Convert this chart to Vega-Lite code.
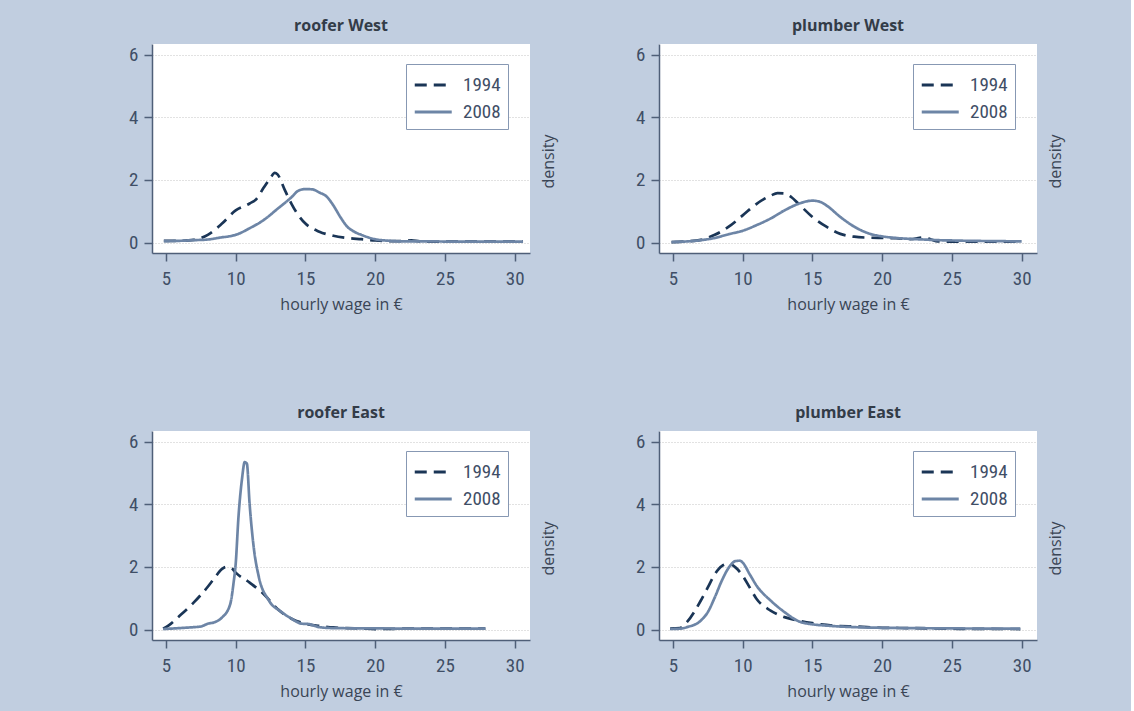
{
  "$schema": "https://vega.github.io/schema/vega-lite/v6.json",
  "background": "#c1cee0",
  "padding": {"left": 128, "top": 18, "right": 68, "bottom": 14},
  "bounds": "flush",
  "columns": 2,
  "spacing": {"row": 178, "column": 129},
  "data": {"values": [
    {"panel":"roofer West","year":"1994","wage":4.85,"density":0.06},
    {"panel":"roofer West","year":"1994","wage":6,"density":0.06},
    {"panel":"roofer West","year":"1994","wage":7,"density":0.09},
    {"panel":"roofer West","year":"1994","wage":8,"density":0.25},
    {"panel":"roofer West","year":"1994","wage":9,"density":0.6},
    {"panel":"roofer West","year":"1994","wage":10,"density":1.03},
    {"panel":"roofer West","year":"1994","wage":11,"density":1.25},
    {"panel":"roofer West","year":"1994","wage":11.5,"density":1.4},
    {"panel":"roofer West","year":"1994","wage":12,"density":1.75},
    {"panel":"roofer West","year":"1994","wage":12.5,"density":2.07},
    {"panel":"roofer West","year":"1994","wage":12.8,"density":2.23},
    {"panel":"roofer West","year":"1994","wage":13,"density":2.18},
    {"panel":"roofer West","year":"1994","wage":13.5,"density":1.7},
    {"panel":"roofer West","year":"1994","wage":14,"density":1.24},
    {"panel":"roofer West","year":"1994","wage":14.5,"density":0.87},
    {"panel":"roofer West","year":"1994","wage":15,"density":0.61},
    {"panel":"roofer West","year":"1994","wage":16,"density":0.35},
    {"panel":"roofer West","year":"1994","wage":17,"density":0.22},
    {"panel":"roofer West","year":"1994","wage":18,"density":0.15},
    {"panel":"roofer West","year":"1994","wage":19,"density":0.11},
    {"panel":"roofer West","year":"1994","wage":20,"density":0.07},
    {"panel":"roofer West","year":"1994","wage":21,"density":0.05},
    {"panel":"roofer West","year":"1994","wage":22,"density":0.05},
    {"panel":"roofer West","year":"1994","wage":22.6,"density":0.07},
    {"panel":"roofer West","year":"1994","wage":23.2,"density":0.04},
    {"panel":"roofer West","year":"1994","wage":24,"density":0.03},
    {"panel":"roofer West","year":"1994","wage":26,"density":0.03},
    {"panel":"roofer West","year":"1994","wage":28,"density":0.03},
    {"panel":"roofer West","year":"1994","wage":30.6,"density":0.03},
    {"panel":"roofer West","year":"2008","wage":4.85,"density":0.05},
    {"panel":"roofer West","year":"2008","wage":6,"density":0.06},
    {"panel":"roofer West","year":"2008","wage":7,"density":0.08},
    {"panel":"roofer West","year":"2008","wage":8,"density":0.1},
    {"panel":"roofer West","year":"2008","wage":9,"density":0.17},
    {"panel":"roofer West","year":"2008","wage":9.5,"density":0.2},
    {"panel":"roofer West","year":"2008","wage":10,"density":0.25},
    {"panel":"roofer West","year":"2008","wage":11,"density":0.46},
    {"panel":"roofer West","year":"2008","wage":12,"density":0.72},
    {"panel":"roofer West","year":"2008","wage":13,"density":1.08},
    {"panel":"roofer West","year":"2008","wage":14,"density":1.45},
    {"panel":"roofer West","year":"2008","wage":14.5,"density":1.66},
    {"panel":"roofer West","year":"2008","wage":15,"density":1.71},
    {"panel":"roofer West","year":"2008","wage":15.5,"density":1.7},
    {"panel":"roofer West","year":"2008","wage":16,"density":1.6},
    {"panel":"roofer West","year":"2008","wage":16.5,"density":1.48},
    {"panel":"roofer West","year":"2008","wage":17,"density":1.19},
    {"panel":"roofer West","year":"2008","wage":17.5,"density":0.82},
    {"panel":"roofer West","year":"2008","wage":18,"density":0.51},
    {"panel":"roofer West","year":"2008","wage":18.5,"density":0.35},
    {"panel":"roofer West","year":"2008","wage":19,"density":0.25},
    {"panel":"roofer West","year":"2008","wage":20,"density":0.11},
    {"panel":"roofer West","year":"2008","wage":21,"density":0.06},
    {"panel":"roofer West","year":"2008","wage":22,"density":0.04},
    {"panel":"roofer West","year":"2008","wage":24,"density":0.04},
    {"panel":"roofer West","year":"2008","wage":26,"density":0.03},
    {"panel":"roofer West","year":"2008","wage":28,"density":0.03},
    {"panel":"roofer West","year":"2008","wage":30.6,"density":0.03},
    {"panel":"plumber West","year":"1994","wage":4.9,"density":0.02},
    {"panel":"plumber West","year":"1994","wage":6,"density":0.04},
    {"panel":"plumber West","year":"1994","wage":7,"density":0.09},
    {"panel":"plumber West","year":"1994","wage":8,"density":0.25},
    {"panel":"plumber West","year":"1994","wage":9,"density":0.51},
    {"panel":"plumber West","year":"1994","wage":10,"density":0.87},
    {"panel":"plumber West","year":"1994","wage":11,"density":1.24},
    {"panel":"plumber West","year":"1994","wage":12,"density":1.5},
    {"panel":"plumber West","year":"1994","wage":12.5,"density":1.58},
    {"panel":"plumber West","year":"1994","wage":13,"density":1.57},
    {"panel":"plumber West","year":"1994","wage":13.5,"density":1.45},
    {"panel":"plumber West","year":"1994","wage":14,"density":1.24},
    {"panel":"plumber West","year":"1994","wage":15,"density":0.82},
    {"panel":"plumber West","year":"1994","wage":16,"density":0.51},
    {"panel":"plumber West","year":"1994","wage":17,"density":0.28},
    {"panel":"plumber West","year":"1994","wage":18,"density":0.19},
    {"panel":"plumber West","year":"1994","wage":19,"density":0.16},
    {"panel":"plumber West","year":"1994","wage":20,"density":0.15},
    {"panel":"plumber West","year":"1994","wage":21,"density":0.14},
    {"panel":"plumber West","year":"1994","wage":22,"density":0.11},
    {"panel":"plumber West","year":"1994","wage":23,"density":0.17},
    {"panel":"plumber West","year":"1994","wage":23.5,"density":0.1},
    {"panel":"plumber West","year":"1994","wage":24,"density":0.04},
    {"panel":"plumber West","year":"1994","wage":25,"density":0.03},
    {"panel":"plumber West","year":"1994","wage":27,"density":0.03},
    {"panel":"plumber West","year":"1994","wage":30,"density":0.03},
    {"panel":"plumber West","year":"2008","wage":4.9,"density":0.02},
    {"panel":"plumber West","year":"2008","wage":6,"density":0.04},
    {"panel":"plumber West","year":"2008","wage":7,"density":0.08},
    {"panel":"plumber West","year":"2008","wage":8,"density":0.15},
    {"panel":"plumber West","year":"2008","wage":9,"density":0.27},
    {"panel":"plumber West","year":"2008","wage":10,"density":0.38},
    {"panel":"plumber West","year":"2008","wage":11,"density":0.56},
    {"panel":"plumber West","year":"2008","wage":12,"density":0.77},
    {"panel":"plumber West","year":"2008","wage":13,"density":1.03},
    {"panel":"plumber West","year":"2008","wage":14,"density":1.24},
    {"panel":"plumber West","year":"2008","wage":15,"density":1.34},
    {"panel":"plumber West","year":"2008","wage":15.5,"density":1.31},
    {"panel":"plumber West","year":"2008","wage":16,"density":1.19},
    {"panel":"plumber West","year":"2008","wage":17,"density":0.82},
    {"panel":"plumber West","year":"2008","wage":18,"density":0.51},
    {"panel":"plumber West","year":"2008","wage":19,"density":0.3},
    {"panel":"plumber West","year":"2008","wage":20,"density":0.2},
    {"panel":"plumber West","year":"2008","wage":21,"density":0.15},
    {"panel":"plumber West","year":"2008","wage":22,"density":0.12},
    {"panel":"plumber West","year":"2008","wage":23,"density":0.1},
    {"panel":"plumber West","year":"2008","wage":24,"density":0.08},
    {"panel":"plumber West","year":"2008","wage":25,"density":0.07},
    {"panel":"plumber West","year":"2008","wage":26,"density":0.06},
    {"panel":"plumber West","year":"2008","wage":28,"density":0.05},
    {"panel":"plumber West","year":"2008","wage":30,"density":0.04},
    {"panel":"roofer East","year":"1994","wage":4.8,"density":0.03},
    {"panel":"roofer East","year":"1994","wage":5.2,"density":0.14},
    {"panel":"roofer East","year":"1994","wage":6,"density":0.45},
    {"panel":"roofer East","year":"1994","wage":7,"density":0.87},
    {"panel":"roofer East","year":"1994","wage":8,"density":1.37},
    {"panel":"roofer East","year":"1994","wage":8.5,"density":1.66},
    {"panel":"roofer East","year":"1994","wage":9,"density":1.93},
    {"panel":"roofer East","year":"1994","wage":9.3,"density":2.0},
    {"panel":"roofer East","year":"1994","wage":9.7,"density":1.96},
    {"panel":"roofer East","year":"1994","wage":10,"density":1.82},
    {"panel":"roofer East","year":"1994","wage":11,"density":1.5},
    {"panel":"roofer East","year":"1994","wage":12,"density":1.14},
    {"panel":"roofer East","year":"1994","wage":13,"density":0.66},
    {"panel":"roofer East","year":"1994","wage":14,"density":0.35},
    {"panel":"roofer East","year":"1994","wage":15,"density":0.19},
    {"panel":"roofer East","year":"1994","wage":16,"density":0.12},
    {"panel":"roofer East","year":"1994","wage":17,"density":0.07},
    {"panel":"roofer East","year":"1994","wage":18,"density":0.05},
    {"panel":"roofer East","year":"1994","wage":19,"density":0.04},
    {"panel":"roofer East","year":"1994","wage":20,"density":0.02},
    {"panel":"roofer East","year":"1994","wage":22,"density":0.03},
    {"panel":"roofer East","year":"1994","wage":25,"density":0.03},
    {"panel":"roofer East","year":"1994","wage":27.9,"density":0.03},
    {"panel":"roofer East","year":"2008","wage":4.8,"density":0.02},
    {"panel":"roofer East","year":"2008","wage":6,"density":0.05},
    {"panel":"roofer East","year":"2008","wage":7,"density":0.08},
    {"panel":"roofer East","year":"2008","wage":7.5,"density":0.1},
    {"panel":"roofer East","year":"2008","wage":8,"density":0.19},
    {"panel":"roofer East","year":"2008","wage":8.5,"density":0.24},
    {"panel":"roofer East","year":"2008","wage":9,"density":0.38},
    {"panel":"roofer East","year":"2008","wage":9.6,"density":0.8},
    {"panel":"roofer East","year":"2008","wage":9.85,"density":1.5},
    {"panel":"roofer East","year":"2008","wage":10,"density":2.1},
    {"panel":"roofer East","year":"2008","wage":10.2,"density":3.6},
    {"panel":"roofer East","year":"2008","wage":10.45,"density":4.8},
    {"panel":"roofer East","year":"2008","wage":10.65,"density":5.35},
    {"panel":"roofer East","year":"2008","wage":10.8,"density":5.3},
    {"panel":"roofer East","year":"2008","wage":11,"density":4.0},
    {"panel":"roofer East","year":"2008","wage":11.3,"density":2.6},
    {"panel":"roofer East","year":"2008","wage":11.65,"density":1.7},
    {"panel":"roofer East","year":"2008","wage":12.35,"density":0.95},
    {"panel":"roofer East","year":"2008","wage":13.3,"density":0.56},
    {"panel":"roofer East","year":"2008","wage":14,"density":0.35},
    {"panel":"roofer East","year":"2008","wage":14.75,"density":0.19},
    {"panel":"roofer East","year":"2008","wage":15.2,"density":0.18},
    {"panel":"roofer East","year":"2008","wage":16,"density":0.08},
    {"panel":"roofer East","year":"2008","wage":17,"density":0.05},
    {"panel":"roofer East","year":"2008","wage":20,"density":0.04},
    {"panel":"roofer East","year":"2008","wage":24,"density":0.03},
    {"panel":"roofer East","year":"2008","wage":27.9,"density":0.03},
    {"panel":"plumber East","year":"1994","wage":4.8,"density":0.03},
    {"panel":"plumber East","year":"1994","wage":5.5,"density":0.05},
    {"panel":"plumber East","year":"1994","wage":6,"density":0.24},
    {"panel":"plumber East","year":"1994","wage":7,"density":0.93},
    {"panel":"plumber East","year":"1994","wage":7.5,"density":1.35},
    {"panel":"plumber East","year":"1994","wage":8,"density":1.77},
    {"panel":"plumber East","year":"1994","wage":8.5,"density":2.03},
    {"panel":"plumber East","year":"1994","wage":9,"density":2.1},
    {"panel":"plumber East","year":"1994","wage":9.5,"density":1.98},
    {"panel":"plumber East","year":"1994","wage":10,"density":1.72},
    {"panel":"plumber East","year":"1994","wage":10.5,"density":1.35},
    {"panel":"plumber East","year":"1994","wage":11,"density":0.98},
    {"panel":"plumber East","year":"1994","wage":12,"density":0.61},
    {"panel":"plumber East","year":"1994","wage":13,"density":0.4},
    {"panel":"plumber East","year":"1994","wage":14,"density":0.29},
    {"panel":"plumber East","year":"1994","wage":15,"density":0.21},
    {"panel":"plumber East","year":"1994","wage":16,"density":0.15},
    {"panel":"plumber East","year":"1994","wage":17,"density":0.11},
    {"panel":"plumber East","year":"1994","wage":18,"density":0.1},
    {"panel":"plumber East","year":"1994","wage":20,"density":0.06},
    {"panel":"plumber East","year":"1994","wage":22,"density":0.05},
    {"panel":"plumber East","year":"1994","wage":25,"density":0.03},
    {"panel":"plumber East","year":"1994","wage":29.9,"density":0.02},
    {"panel":"plumber East","year":"2008","wage":4.8,"density":0.02},
    {"panel":"plumber East","year":"2008","wage":5.5,"density":0.03},
    {"panel":"plumber East","year":"2008","wage":6,"density":0.08},
    {"panel":"plumber East","year":"2008","wage":7,"density":0.29},
    {"panel":"plumber East","year":"2008","wage":7.5,"density":0.56},
    {"panel":"plumber East","year":"2008","wage":8,"density":1.03},
    {"panel":"plumber East","year":"2008","wage":8.5,"density":1.56},
    {"panel":"plumber East","year":"2008","wage":9,"density":1.98},
    {"panel":"plumber East","year":"2008","wage":9.5,"density":2.19},
    {"panel":"plumber East","year":"2008","wage":9.8,"density":2.2},
    {"panel":"plumber East","year":"2008","wage":10,"density":2.14},
    {"panel":"plumber East","year":"2008","wage":10.5,"density":1.77},
    {"panel":"plumber East","year":"2008","wage":11,"density":1.4},
    {"panel":"plumber East","year":"2008","wage":12,"density":0.93},
    {"panel":"plumber East","year":"2008","wage":13,"density":0.56},
    {"panel":"plumber East","year":"2008","wage":14,"density":0.27},
    {"panel":"plumber East","year":"2008","wage":15,"density":0.17},
    {"panel":"plumber East","year":"2008","wage":16,"density":0.13},
    {"panel":"plumber East","year":"2008","wage":17,"density":0.1},
    {"panel":"plumber East","year":"2008","wage":18,"density":0.08},
    {"panel":"plumber East","year":"2008","wage":20,"density":0.06},
    {"panel":"plumber East","year":"2008","wage":22,"density":0.05},
    {"panel":"plumber East","year":"2008","wage":25,"density":0.04},
    {"panel":"plumber East","year":"2008","wage":29.9,"density":0.03}
  ]},
  "concat": [
    {
      "title": "roofer West",
      "width": 378, "height": 209,
      "transform": [{"filter": "datum.panel === 'roofer West'"}],
      "mark": {"type": "line", "strokeWidth": 2.7, "interpolate": "monotone"},
      "encoding": {
        "x": {"field": "wage", "type": "quantitative", "scale": {"domain": [4, 31.1], "nice": false, "zero": false}, "axis": {"values": [5,10,15,20,25,30], "title": "hourly wage in €"}},
        "y": {"field": "density", "type": "quantitative", "scale": {"domain": [-0.33, 6.34], "nice": false}, "axis": {"values": [0,2,4,6], "title": "density", "titleX": 396, "titleY": 117, "titleAngle": 270, "titleBaseline": "middle"}},
        "color": {"field": "year", "type": "nominal", "scale": {"domain": ["1994","2008"], "range": ["#1a3556","#6d85a6"]}, "legend": {"title": null}},
        "strokeDash": {"field": "year", "type": "nominal", "scale": {"domain": ["1994","2008"], "range": [[12,7],[1,0]]}, "legend": {"title": null}}
      }
    },
    {
      "title": "plumber West",
      "width": 378, "height": 209,
      "transform": [{"filter": "datum.panel === 'plumber West'"}],
      "mark": {"type": "line", "strokeWidth": 2.7, "interpolate": "monotone"},
      "encoding": {
        "x": {"field": "wage", "type": "quantitative", "scale": {"domain": [4, 31.1], "nice": false, "zero": false}, "axis": {"values": [5,10,15,20,25,30], "title": "hourly wage in €"}},
        "y": {"field": "density", "type": "quantitative", "scale": {"domain": [-0.33, 6.34], "nice": false}, "axis": {"values": [0,2,4,6], "title": "density", "titleX": 396, "titleY": 117, "titleAngle": 270, "titleBaseline": "middle"}},
        "color": {"field": "year", "type": "nominal", "scale": {"domain": ["1994","2008"], "range": ["#1a3556","#6d85a6"]}, "legend": {"title": null}},
        "strokeDash": {"field": "year", "type": "nominal", "scale": {"domain": ["1994","2008"], "range": [[12,7],[1,0]]}, "legend": {"title": null}}
      }
    },
    {
      "title": "roofer East",
      "width": 378, "height": 209,
      "transform": [{"filter": "datum.panel === 'roofer East'"}],
      "mark": {"type": "line", "strokeWidth": 2.7, "interpolate": "monotone"},
      "encoding": {
        "x": {"field": "wage", "type": "quantitative", "scale": {"domain": [4, 31.1], "nice": false, "zero": false}, "axis": {"values": [5,10,15,20,25,30], "title": "hourly wage in €"}},
        "y": {"field": "density", "type": "quantitative", "scale": {"domain": [-0.33, 6.34], "nice": false}, "axis": {"values": [0,2,4,6], "title": "density", "titleX": 396, "titleY": 117, "titleAngle": 270, "titleBaseline": "middle"}},
        "color": {"field": "year", "type": "nominal", "scale": {"domain": ["1994","2008"], "range": ["#1a3556","#6d85a6"]}, "legend": {"title": null}},
        "strokeDash": {"field": "year", "type": "nominal", "scale": {"domain": ["1994","2008"], "range": [[12,7],[1,0]]}, "legend": {"title": null}}
      }
    },
    {
      "title": "plumber East",
      "width": 378, "height": 209,
      "transform": [{"filter": "datum.panel === 'plumber East'"}],
      "mark": {"type": "line", "strokeWidth": 2.7, "interpolate": "monotone"},
      "encoding": {
        "x": {"field": "wage", "type": "quantitative", "scale": {"domain": [4, 31.1], "nice": false, "zero": false}, "axis": {"values": [5,10,15,20,25,30], "title": "hourly wage in €"}},
        "y": {"field": "density", "type": "quantitative", "scale": {"domain": [-0.33, 6.34], "nice": false}, "axis": {"values": [0,2,4,6], "title": "density", "titleX": 396, "titleY": 117, "titleAngle": 270, "titleBaseline": "middle"}},
        "color": {"field": "year", "type": "nominal", "scale": {"domain": ["1994","2008"], "range": ["#1a3556","#6d85a6"]}, "legend": {"title": null}},
        "strokeDash": {"field": "year", "type": "nominal", "scale": {"domain": ["1994","2008"], "range": [[12,7],[1,0]]}, "legend": {"title": null}}
      }
    }
  ],
  "resolve": {"legend": {"color": "independent", "strokeDash": "independent"}},
  "config": {
    "view": {"fill": "white", "stroke": null},
    "title": {"font": "Open Sans", "fontSize": 16, "fontWeight": "bold", "color": "#333c48", "offset": 10},
    "axis": {
      "domainColor": "#4f5f78", "domainWidth": 1.5,
      "tickColor": "#4f5f78", "tickWidth": 1.5, "tickSize": 8,
      "labelFont": "Liberation Sans Narrow, Roboto Condensed, DejaVu Sans Condensed, Liberation Sans, sans-serif",
      "labelFontSize": 19, "labelColor": "#3f4e66", "labelPadding": 5,
      "titleFont": "Open Sans", "titleFontSize": 16, "titleFontWeight": "normal", "titleColor": "#3a4555",
      "grid": false
    },
    "axisX": {"titlePadding": 8, "labelPadding": 8},
    "axisY": {"grid": true, "gridColor": "#c4c4c4", "gridDash": [1, 2], "gridWidth": 1, "labelPadding": 6},
    "legend": {
      "orient": "none", "legendX": 254, "legendY": 20, "padding": 7,
      "strokeColor": "#8798b3", "fillColor": "white",
      "symbolType": "M-1,0H2.02", "symbolSize": 600, "symbolStrokeWidth": 3,
      "labelFont": "Liberation Sans Narrow, Roboto Condensed, DejaVu Sans Condensed, Liberation Sans, sans-serif",
      "labelFontSize": 19, "labelColor": "#3f4e66", "labelOffset": 22, "rowPadding": 3
    }
  }
}
